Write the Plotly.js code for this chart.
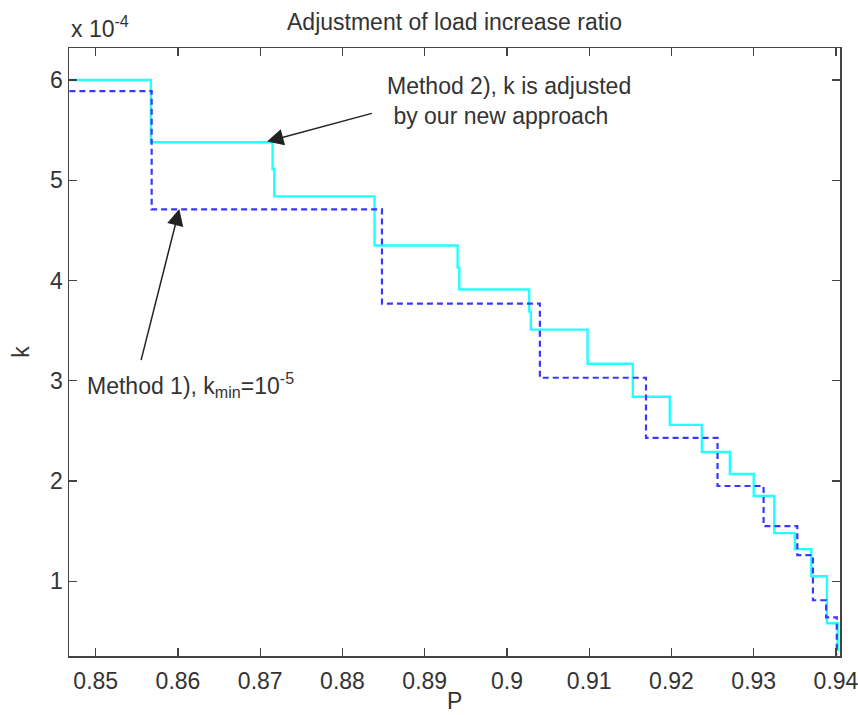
<!DOCTYPE html>
<html>
<head>
<meta charset="utf-8">
<script src="https://cdn.plot.ly/plotly-3.0.1.min.js"></script>
<style>html,body{margin:0;padding:0;background:#fff;}#chart{width:858px;height:715px;}</style>
</head>
<body>
<div id="chart"></div>
<script>
// k values in units of 1e-4 (axis shows "x 10^-4")
const P_method2 = [0.8468, 0.8567, 0.8715, 0.8717, 0.8839, 0.8940, 0.8942, 0.9027, 0.9029, 0.9098, 0.9153, 0.9198, 0.9237, 0.9271, 0.9300, 0.9325, 0.9350, 0.9370, 0.9389, 0.9402];
const k_method2 = [6.00, 5.38, 5.11, 4.84, 4.35, 4.13, 3.91, 3.69, 3.51, 3.17, 2.84, 2.56, 2.29, 2.07, 1.85, 1.48, 1.32, 1.05, 0.58, 0.30];

const P_method1 = [0.8468, 0.8568, 0.8848, 0.9040, 0.9169, 0.9256, 0.9312, 0.9353, 0.9372, 0.9388, 0.9401];
const k_method1 = [5.89, 4.71, 3.77, 3.03, 2.43, 1.95, 1.55, 1.26, 0.81, 0.64, 0.27];

const xTicks = [0.85, 0.86, 0.87, 0.88, 0.89, 0.90, 0.91, 0.92, 0.93, 0.94];
const xTickText = ['0.85', '0.86', '0.87', '0.88', '0.89', '0.9', '0.91', '0.92', '0.93', '0.94'];
const yTicks = [1, 2, 3, 4, 5, 6];
const yTickText = ['1', '2', '3', '4', '5', '6'];

const titleText = 'Adjustment of load increase ratio';
const xTitle = 'P';
const yTitle = 'k';
const scaleNote = 'x 10<sup>-4</sup>';
const note2 = 'Method 2), k is adjusted<br>\u00a0by our new approach';
const note1 = 'Method 1), k<sub>min</sub>=10<sup>-5</sup>';

const FONT = 'Liberation Sans, Arial, sans-serif';
const FS = 23;
const TXT = '#333333';
const AX = '#444444';

const traces = [
  {
    x: P_method2, y: k_method2, type: 'scatter', mode: 'lines',
    line: {shape: 'hv', color: '#22ffff', width: 2.4},
    name: 'Method 2', hoverinfo: 'x+y'
  },
  {
    x: P_method1, y: k_method1, type: 'scatter', mode: 'lines',
    line: {shape: 'hv', color: '#3838ff', width: 2.2, dash: '6px,4px'},
    name: 'Method 1', hoverinfo: 'x+y'
  }
];

const axisCommon = {
  showgrid: false, zeroline: false, showline: true, mirror: 'allticks',
  linecolor: AX, linewidth: 1.5, ticks: 'inside', ticklen: 8, tickwidth: 1.2,
  tickcolor: AX, tickfont: {family: FONT, size: FS, color: TXT}
};

const layout = {
  width: 858, height: 715,
  margin: {l: 69, r: 18, t: 48, b: 59, pad: 0},
  paper_bgcolor: '#ffffff', plot_bgcolor: '#ffffff',
  showlegend: false,
  font: {family: FONT, size: FS, color: TXT},
  title: {text: titleText, x: 0.5, xref: 'paper', xanchor: 'center', y: 0.969, yanchor: 'middle', yref: 'container',
          font: {family: FONT, size: FS, color: TXT}},
  xaxis: Object.assign({}, axisCommon, {
    range: [0.84675, 0.94049], tickmode: 'array', tickvals: xTicks, ticktext: xTickText,
    ticklabelstandoff: 4, ticklabeloverflow: 'allow', automargin: false
  }),
  yaxis: Object.assign({}, axisCommon, {
    range: [0.254, 6.32], tickmode: 'array', tickvals: yTicks, ticktext: yTickText,
    title: {text: yTitle, standoff: 14, font: {family: FONT, size: FS, color: TXT}}, automargin: false
  }),
  annotations: [
    {text: xTitle, xref: 'paper', yref: 'paper', x: 0.5, y: -0.0965, xanchor: 'center', yanchor: 'bottom',
     borderpad: 0, showarrow: false, font: {family: FONT, size: FS, color: TXT}},
    {text: scaleNote, xref: 'paper', yref: 'paper', x: 0, y: 1.035, xanchor: 'left', yanchor: 'middle',
     showarrow: false, font: {family: FONT, size: FS, color: TXT}},
    {text: note2, xref: 'paper', yref: 'paper', x: 0.4099, y: 0.9128, xanchor: 'left', yanchor: 'middle',
     align: 'left', showarrow: false, font: {family: FONT, size: FS, color: TXT}},
    {text: note1, xref: 'paper', yref: 'paper', x: 0.0208, y: 0.445, xanchor: 'left', yanchor: 'middle',
     align: 'left', showarrow: false, font: {family: FONT, size: FS, color: TXT}},
    {text: '', x: 0.87082, y: 5.386, xref: 'x', yref: 'y', ax: 0.88375, ay: 5.672, axref: 'x', ayref: 'y',
     showarrow: true, arrowhead: 2, arrowsize: 2.2, arrowwidth: 1.5, arrowcolor: '#222222', standoff: 0},
    {text: '', x: 0.86016, y: 4.713, xref: 'x', yref: 'y', ax: 0.85547, ay: 3.191, axref: 'x', ayref: 'y',
     showarrow: true, arrowhead: 2, arrowsize: 2.2, arrowwidth: 1.5, arrowcolor: '#222222', standoff: 0}
  ]
};

Plotly.newPlot('chart', traces, layout, {displayModeBar: false, staticPlot: true});
</script>
</body>
</html>
